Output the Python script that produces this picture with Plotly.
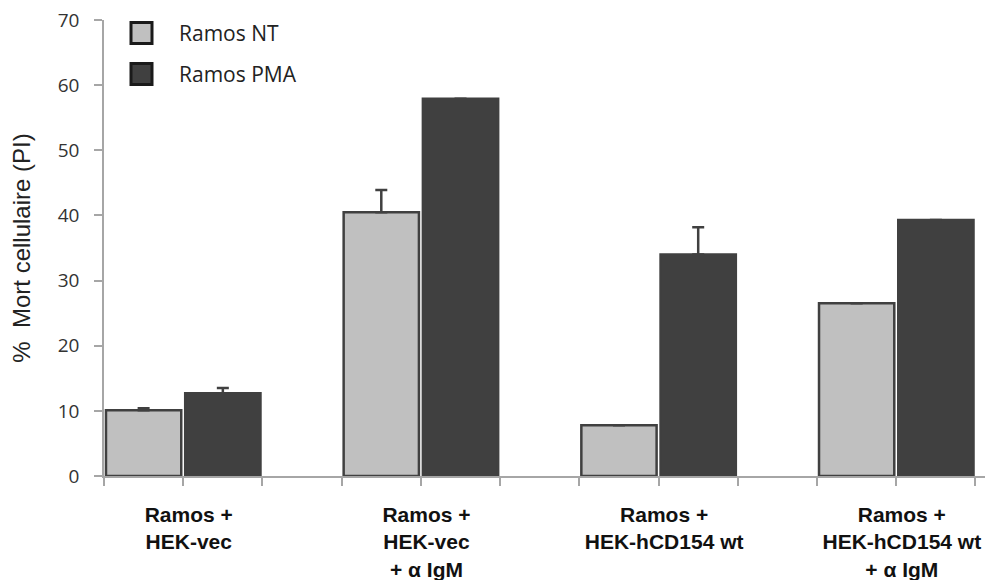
import plotly.graph_objects as go

# Cell death (% PI-positive) for each co-culture condition
categories = [
    "Ramos +<br>HEK-vec",
    "Ramos +<br>HEK-vec<br>+ α IgM",
    "Ramos +<br>HEK-hCD154 wt",
    "Ramos +<br>HEK-hCD154 wt<br>+ α IgM",
]
series_names = ["Ramos NT", "Ramos PMA"]
ramos_nt = [10.1, 40.5, 7.8, 26.5]
ramos_nt_err = [0.3, 3.4, None, None]
ramos_pma = [12.7, 57.9, 34.0, 39.3]
ramos_pma_err = [0.8, None, 4.2, None]
y_ticks = [0, 10, 20, 30, 40, 50, 60, 70]

W, H = 985, 580
M_L, M_R, M_T, M_B = 104, 0, 20, 104

LIGHT = "#c0c0c0"
DARK = "#404040"
AXIS = "#a6a6a6"

# each condition uses three slots: NT bar, PMA bar, empty spacer
n = len(categories)
x_nt = [3 * i for i in range(n)]
x_pma = [3 * i + 1 for i in range(n)]
label_pos = [3 * i + 0.57 for i in range(n)]

fig = go.Figure()
for name, xs, ys, err, fill in [
    (series_names[0], x_nt, ramos_nt, ramos_nt_err, LIGHT),
    (series_names[1], x_pma, ramos_pma, ramos_pma_err, DARK),
]:
    fig.add_trace(go.Bar(
        name=name, x=xs, y=ys, width=0.95,
        marker=dict(color=fill, line=dict(color=DARK, width=2.5)),
        error_y=dict(type="data", symmetric=False, array=err,
                     arrayminus=[0 if e is not None else None for e in err],
                     color=DARK, thickness=2.5, width=6),
        showlegend=False,
    ))

# legend drawn as large outlined squares with labels
def px_x(p):
    return (p - M_L) / (W - M_L - M_R)

def px_y(p):
    return 1 - (p - M_T) / (H - M_T - M_B)

for k, (name, fill) in enumerate(zip(series_names, [LIGHT, DARK])):
    cy = 33 + 41 * k
    fig.add_shape(type="rect", xref="paper", yref="paper",
                  x0=px_x(131), x1=px_x(152), y0=px_y(cy + 10.5), y1=px_y(cy - 10.5),
                  fillcolor=fill, line=dict(color="#1a1a1a", width=3))
    fig.add_annotation(xref="paper", yref="paper", x=px_x(177), y=px_y(cy),
                       text=name, showarrow=False, xanchor="left", yanchor="middle",
                       font=dict(family="Open Sans", size=21, color="#222222"))

fig.update_layout(
    width=W, height=H,
    margin=dict(l=M_L, r=M_R, t=M_T, b=M_B),
    plot_bgcolor="white", paper_bgcolor="white",
    barmode="overlay",
    xaxis=dict(
        range=[-0.5, 10.62],
        tickmode="array", tickvals=label_pos, ticktext=categories,
        ticks="", ticklabelstandoff=19,
        tickfont=dict(family="Liberation Sans", size=21, color="#111111", weight="bold"),
        showline=True, linecolor=AXIS, linewidth=1.5,
        showgrid=False, zeroline=False,
        minor=dict(tickmode="linear", tick0=-0.5, dtick=1, ticks="outside",
                   ticklen=8, tickcolor=AXIS, tickwidth=1.5, showgrid=False),
    ),
    yaxis=dict(
        range=[0, 70], tickmode="array", tickvals=y_ticks,
        ticks="outside", ticklen=8, tickcolor=AXIS, tickwidth=1.5,
        ticklabelstandoff=11,
        tickfont=dict(family="Open Sans", size=19, color="#333333"),
        showline=True, linecolor=AXIS, linewidth=1.5,
        showgrid=False, zeroline=False,
        title=dict(text="%  Mort cellulaire (PI)", standoff=20,
                   font=dict(family="Liberation Sans", size=24, color="#222222")),
    ),
)

fig.write_html("out.html")
